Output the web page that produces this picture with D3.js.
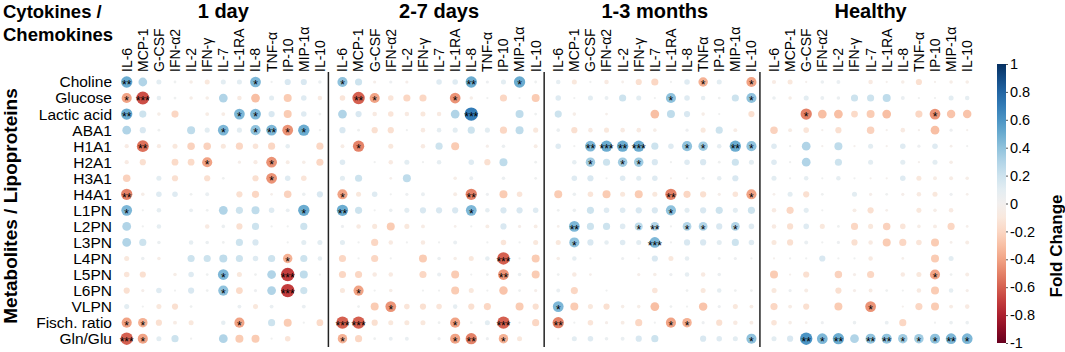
<!DOCTYPE html>
<html><head><meta charset="utf-8">
<script src="https://cdn.jsdelivr.net/npm/d3@7"></script>
<style>
body{margin:0;background:#fff}
svg{display:block;font-family:Arial,"Liberation Sans",sans-serif}
</style>
</head><body>
<svg id="chart" width="1065" height="352"></svg>
<script>
// ---------- DATA ----------
const metabolites = ["Choline","Glucose","Lactic acid","ABA1","H1A1","H2A1","H3A1","H4A1","L1PN","L2PN","L3PN","L4PN","L5PN","L6PN","VLPN","Fisch. ratio","Gln/Glu"];
const periods = ["1 day","2-7 days","1-3 months","Healthy"];
const cytokines_1day    = ["IL-6","MCP-1","G-CSF","IFN-α2","IL-2","IFN-γ","IL-7","IL-1RA","IL-8","TNF-α","IP-10","MIP-1α","IL-10"];
const cytokines_2to7    = ["IL-6","MCP-1","G-CSF","IFN-α2","IL-2","IFN-γ","IL-7","IL-1RA","IL-8","TNF-α","IP-10","MIP-1α","IL-10"];
const cytokines_1to3m   = ["IL-6","MCP-1","G-CSF","IFN-α2","IL-2","IFN-γ","IL-7","IL-1RA","IL-8","TNFα","IP-10","MIP-1α","IL-10"];
const cytokines_healthy = ["IL-6","MCP-1","G-CSF","IFN-α2","IL-2","IFN-γ","IL-7","IL-1RA","IL-8","TNF-α","IP-10","MIP-1α","IL-10"];

const fc_1day = [
 [0.5,0.3,0.1,0.03,-0.05,-0.1,0.1,0.1,0.45,0.02,0.15,0.15,0.05],
 [-0.4,-0.65,0.08,0.03,-0.05,-0.05,0.3,-0.08,-0.3,0.1,-0.25,0.12,-0.08],
 [0.5,0.2,-0.05,-0.2,0,-0.06,-0.06,0.45,0.45,0.15,-0.25,0.12,0.03],
 [0.3,0.15,0.03,0,0.25,0.1,0.45,0.1,0.4,0.45,-0.45,0.5,0.02],
 [-0.07,-0.55,-0.07,-0.1,-0.22,-0.22,-0.1,-0.2,-0.12,-0.2,0.08,0,-0.2],
 [-0.07,-0.15,0,-0.18,-0.18,-0.4,0,-0.04,-0.07,-0.45,-0.06,-0.05,-0.2],
 [-0.22,0,0.1,-0.15,0,-0.15,0.03,0,-0.15,-0.45,0.12,-0.12,0],
 [-0.5,-0.05,0.12,0.12,0.03,0.06,0,-0.15,-0.2,-0.03,-0.22,0.05,0.15],
 [0.45,0.02,0.08,0,0.06,0.03,0.3,0.2,0.25,0.12,0.06,0.5,0],
 [0.3,0.02,0.08,0,0,-0.08,0.05,-0.15,0.2,0.02,0.02,0.2,0],
 [0.3,0.2,0.05,0,0.08,0.05,0.03,0.2,0.15,0,0.02,0.1,0.1],
 [-0.1,0.05,-0.05,0,0.2,0.2,0.25,0.2,0.12,0.2,-0.35,0.2,0.08],
 [-0.12,-0.15,0,-0.05,0.12,0.03,0.45,-0.1,0.03,0.3,-0.7,0.25,0.02],
 [-0.15,-0.04,0.12,0.02,0.15,0.03,0.4,-0.18,0.04,0.3,-0.7,0.2,0],
 [0.1,0.02,-0.1,-0.15,0.03,0,0,0.06,-0.1,0.06,0,0.06,0],
 [-0.4,-0.35,-0.15,-0.06,-0.1,0,0.08,-0.4,0,0.2,-0.25,0.02,-0.18],
 [-0.6,-0.4,0.1,0.2,0.02,0,0.3,-0.25,-0.25,0.02,-0.12,0,0]
];
const fc_2to7days = [
 [0.4,0.2,-0.04,0.04,-0.04,0,0.12,0.12,0.5,0.04,0.1,0.5,0.03],
 [-0.12,-0.6,-0.4,-0.12,-0.2,-0.2,0,-0.45,-0.05,0.02,-0.2,0.02,-0.25],
 [0.3,0.15,-0.08,-0.12,-0.08,-0.1,-0.08,0.3,0.7,0,0,0.25,0.03],
 [0.15,0.03,-0.15,-0.15,0.02,-0.08,0.08,0.1,0.2,0.1,-0.2,0.25,-0.1],
 [-0.06,-0.5,0,-0.1,0,-0.08,0.2,-0.25,0,-0.04,0.05,0,-0.06],
 [0.12,0,0.02,-0.08,0.1,0.02,0.08,0,0.12,-0.15,0.25,0,0.03],
 [0.1,0.2,0,-0.03,0.25,0,0,-0.05,0.06,0,0.05,0,0.03],
 [-0.4,-0.1,0.12,0.02,0.04,0.06,0,-0.06,-0.5,0.04,-0.25,-0.12,0],
 [0.5,0.2,0.02,0.05,0.1,0.15,0.15,0.15,0.45,0.08,0.15,0.15,0.12],
 [0.04,-0.08,-0.1,-0.25,-0.1,-0.06,0,-0.03,0.02,-0.06,0.15,-0.04,-0.06],
 [0.1,0.02,-0.2,-0.08,0.02,-0.08,0.02,0.06,0,0.02,-0.12,0.02,-0.1],
 [-0.2,0.02,-0.2,0.02,0,-0.25,0.05,-0.05,-0.1,0.08,-0.6,0.02,-0.25],
 [-0.2,-0.2,-0.08,-0.08,0,-0.2,0.06,-0.25,0.02,0.03,-0.45,0.05,-0.25],
 [-0.1,-0.4,0.02,-0.05,0,0.02,0.02,-0.25,-0.1,0.02,-0.28,0.03,-0.04],
 [0,0.03,-0.25,-0.45,-0.12,-0.15,-0.12,0.08,-0.15,-0.2,0,-0.25,-0.15],
 [-0.6,-0.6,-0.15,-0.1,-0.1,-0.1,0.03,-0.4,0.03,0.1,-0.6,0.02,-0.2],
 [-0.35,-0.2,0.03,0.06,0.06,0,0.04,-0.4,-0.5,0.04,-0.35,-0.1,0]
];
const fc_1to3months = [
 [0.08,-0.1,0.02,-0.08,-0.03,-0.15,-0.2,0.02,0.12,-0.35,0.1,0,-0.4],
 [0.12,0.02,0.1,0.06,0.2,0.1,0.02,0.4,0.12,0.08,0.03,0.2,0.4],
 [0.2,-0.05,0,-0.03,0,0,-0.3,0.25,0.15,-0.05,0.02,0,-0.15],
 [0.05,-0.15,-0.08,-0.1,-0.08,-0.08,-0.05,0,0.04,-0.1,0.2,-0.06,0],
 [0.12,0.02,0.45,0.5,0.5,0.5,0.2,0.12,0.4,0.35,0.08,0.5,0.4],
 [0,0.08,0.35,0.2,0.35,0.35,0.15,0.02,0.12,0.15,0.03,0.2,0.1],
 [0,0.12,0.15,0.02,0.12,0.1,0.12,-0.02,0.02,0.04,0.08,0.15,0],
 [-0.25,0.05,-0.12,-0.25,-0.1,-0.25,-0.1,-0.5,-0.2,-0.15,-0.04,-0.12,-0.4],
 [0.03,0.05,0.2,0.12,0.12,0.15,0.15,0.4,0.1,0.15,0.2,0.1,0.2],
 [-0.03,0.45,0.2,0.2,0.12,0.25,0.3,0.02,0.3,0.3,0.15,0.3,0.12],
 [-0.1,0.4,0.15,0.08,0.12,0.1,0.45,0.02,0.15,0.15,0.1,0.2,0.12],
 [-0.05,0.08,0.02,0,0.04,0.02,0.15,-0.1,0.08,0,0.03,0.04,0.02],
 [0.03,-0.08,-0.03,0,0,-0.04,-0.05,0.04,0.08,-0.08,0.05,0,0],
 [0.06,-0.2,0,0.02,0,0,-0.12,0,0.03,-0.1,0.08,0.03,0.03],
 [0.45,-0.25,-0.1,-0.15,-0.05,-0.05,-0.3,0.03,0.02,-0.28,0.04,-0.1,-0.06],
 [-0.5,0.02,-0.12,-0.04,-0.06,-0.2,0.02,-0.4,-0.35,0.04,-0.15,-0.08,-0.06],
 [0.02,0.1,0.12,0.05,0.06,0.15,0.2,0,0,0.15,0.12,0.1,0.4]
];
const fc_healthy = [
 [-0.07,-0.1,-0.02,0.05,0.06,0,-0.08,-0.02,-0.05,-0.15,-0.02,-0.05,-0.05],
 [0.05,-0.05,0.1,0.06,0.05,0.2,0.2,0.25,0.06,0.02,0.02,0.1,0.08],
 [0,0,-0.5,-0.3,-0.3,-0.18,-0.25,-0.3,0,-0.2,-0.45,-0.28,-0.28],
 [-0.22,-0.06,-0.12,-0.02,-0.15,0,-0.22,-0.02,-0.08,-0.02,-0.3,0.04,-0.02],
 [0.12,0.02,0.3,-0.02,0.25,-0.02,0.1,-0.02,0.12,0.04,0.12,-0.03,0.02],
 [0.12,0.02,0.3,0,0.2,0,0.1,0,0.1,-0.02,0.1,-0.05,0],
 [0.1,0.02,0.08,0.02,0.08,0.02,-0.02,-0.02,0.12,-0.1,-0.06,-0.06,-0.05],
 [-0.03,0.1,-0.15,0.03,0,0.1,-0.04,0.03,-0.04,-0.08,-0.1,0.04,-0.03],
 [-0.08,-0.2,0.1,0.02,0,-0.06,-0.15,-0.03,0,-0.1,-0.05,-0.08,0],
 [-0.08,-0.15,0.12,-0.1,0.03,-0.2,-0.1,-0.22,-0.12,-0.05,-0.06,-0.2,-0.03],
 [-0.1,-0.15,0.06,0.02,0.04,-0.15,-0.08,-0.25,-0.2,-0.12,-0.25,-0.03,-0.06],
 [-0.02,0.02,0.02,0.15,0.02,0.02,-0.08,0,-0.03,0,-0.25,0.1,0],
 [-0.25,-0.02,-0.15,0,-0.22,-0.04,-0.2,0,-0.08,-0.1,-0.4,0.03,-0.06],
 [-0.1,0.04,-0.06,0,-0.15,-0.04,-0.06,0.03,0.02,-0.08,-0.25,0.08,-0.04],
 [-0.2,-0.06,-0.15,0,-0.25,0,-0.45,0,-0.02,-0.2,-0.25,-0.06,-0.08],
 [-0.12,-0.05,-0.03,0.04,0,0.05,0,0.06,-0.2,0,0.02,0.05,0.05],
 [0.1,0.15,0.6,0.45,0.5,0.3,0.4,0.4,0.35,0.35,0.4,0.45,0.45]
];

// significance stars per cell (number of "*")
const sig_1day = ["2000000010000","1300000000000","2000000110000","0000001012110","0200000000000","0000010001000","0000000001000","2000000000000","1000000000010","0000000000000","0000000000000","0000000000100","0000001000300","0000001000300","0000000000000","1100000100000","3100000000000"];
const sig_2to7days = ["1000000020010","0210000100000","0000000030000","0000000000000","0100000000000","0000000000000","0000000000000","1000000020000","2000000010000","0000000000000","0000000000000","0000000000300","0000000000200","0100000000000","0001000000000","3300000100300","1000000120100"];
const sig_1to3months = ["0000000001001","0000000100001","0000000000000","0000000000000","0023230011021","0010110000000","0000000000000","0000000200001","0000000100000","0200012011010","0100003000000","0000000000000","0000000000000","0000000000000","1000000000000","2000000110000","0000000000001"];
const sig_healthy = ["0000000000000","0000000000000","0010000000100","0000000000000","0000000000000","0000000000000","0000000000000","0000000000000","0000000000000","0000000000000","0000000000000","0000000000000","0000000000100","0000000000000","0000001000000","0000000000000","0021202211121"];

const colorbarTicks = [-1,-0.8,-0.6,-0.4,-0.2,0,0.2,0.4,0.6,0.8,1];

// ---------- BUILD ----------
const panels = [
  {name: periods[0], labels: cytokines_1day,    fc: fc_1day,       sig: sig_1day},
  {name: periods[1], labels: cytokines_2to7,    fc: fc_2to7days,   sig: sig_2to7days},
  {name: periods[2], labels: cytokines_1to3m,   fc: fc_1to3months, sig: sig_1to3months},
  {name: periods[3], labels: cytokines_healthy, fc: fc_healthy,    sig: sig_healthy}
];

const svg = d3.select("#chart");
svg.append("rect").attr("width",1065).attr("height",352).attr("fill","#fff");

const xPanel = d3.scalePoint().domain(periods).range([126.7, 774]);
const xCol = d3.scalePoint().domain(d3.range(13)).range([0, 193.2]);
const y = d3.scalePoint().domain(metabolites).range([82, 338.7]);
const r = d3.scaleSqrt().domain([0, 1]).range([0, 8]);
const color = d3.scaleSequential(t => d3.interpolateRdBu(t)).domain([-1, 1]);

// cells
panels.forEach((p, pi) => {
  const g = svg.append("g").attr("transform", `translate(${xPanel(p.name)},0)`);
  const cells = [];
  metabolites.forEach((m, ri) => p.labels.forEach((c, ci) => {
    cells.push({m, ci, v: p.fc[ri][ci], s: +p.sig[ri][ci]});
  }));
  g.selectAll("circle.cell").data(cells).join("circle")
    .attr("class","cell")
    .attr("cx", d => xCol(d.ci)).attr("cy", d => y(d.m))
    .attr("r", d => r(Math.abs(d.v)))
    .attr("fill", d => color(d.v));
  g.selectAll("text.star").data(cells.filter(d => d.s > 0)).join("text")
    .attr("class","star")
    .attr("x", d => xCol(d.ci)).attr("y", d => y(d.m) + 7.2)
    .attr("text-anchor","middle").attr("font-size", 12).attr("fill","#000")
    .text(d => "*".repeat(d.s));
  // column labels
  g.selectAll("text.col").data(p.labels).join("text")
    .attr("class","col")
    .attr("transform", (d, i) => `translate(${xCol(i) + 4.9},72) rotate(-90)`)
    .attr("font-size", 14).attr("fill","#000")
    .text(d => d);
  // panel title
  g.append("text").attr("x", 96.6).attr("y", 17.5)
    .attr("text-anchor","middle").attr("font-size", 20).attr("font-weight","bold")
    .text(p.name);
  // divider
  if (pi < 3) {
    g.append("line").attr("x1", xCol(12) + 8.5).attr("x2", xCol(12) + 8.5)
      .attr("y1", 72).attr("y2", 347).attr("stroke","#222").attr("stroke-width",1.5);
  }
});

// row labels
svg.selectAll("text.row").data(metabolites).join("text")
  .attr("class","row")
  .attr("x", 112).attr("y", d => y(d)).attr("dy","0.35em")
  .attr("text-anchor","end").attr("font-size", 15.5).attr("fill","#000")
  .text(d => d);

// axis titles
svg.append("text").attr("x", 3).attr("y", 17.5).attr("font-size", 18.5).attr("font-weight","bold").text("Cytokines /");
svg.append("text").attr("x", 3).attr("y", 41).attr("font-size", 18.5).attr("font-weight","bold").text("Chemokines");
svg.append("text").attr("transform","translate(16.5,206) rotate(-90)")
  .attr("text-anchor","middle").attr("font-size", 19).attr("font-weight","bold")
  .text("Metabolites / Lipoproteins");

// colorbar
const cbY = d3.scaleLinear().domain([-1, 1]).range([343, 64]);
const defs = svg.append("defs");
const grad = defs.append("linearGradient").attr("id","cbgrad")
  .attr("x1",0).attr("y1",1).attr("x2",0).attr("y2",0);
d3.range(0, 1.0001, 0.05).forEach(t => {
  grad.append("stop").attr("offset", t).attr("stop-color", color(-1 + 2 * t));
});
svg.append("rect").attr("x", 997).attr("y", cbY(1)).attr("width", 9)
  .attr("height", cbY(-1) - cbY(1)).attr("fill","url(#cbgrad)");
const cbAxis = d3.axisRight(cbY).tickValues(colorbarTicks).tickSize(2).tickPadding(2)
  .tickFormat(d => String(Math.round(d * 10) / 10));
const ga = svg.append("g").attr("transform","translate(1006,0)").call(cbAxis);
ga.select(".domain").remove();
ga.selectAll("text").attr("font-size", 14.5).attr("font-family","Arial, 'Liberation Sans', sans-serif").attr("fill","#000");
ga.selectAll("line").attr("stroke","#555");
svg.append("text").attr("transform","translate(1062,246) rotate(-90)")
  .attr("text-anchor","middle").attr("font-size", 17).attr("font-weight","bold")
  .text("Fold Change");
</script>
</body></html>
